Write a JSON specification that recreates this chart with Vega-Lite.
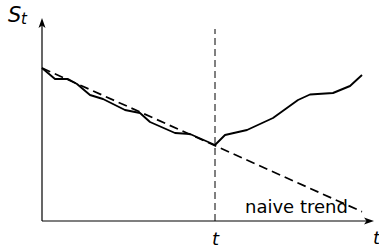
{
  "$schema": "https://vega.github.io/schema/vega-lite/v6.json",
  "width": 330,
  "height": 200,
  "autosize": "none",
  "padding": {"left": 42, "top": 21, "right": 7, "bottom": 26},
  "config": {"view": {"stroke": null}, "font": "DejaVu Sans"},
  "datasets": {
    "series": [
      {"x": 0, "y": 153}, {"x": 13, "y": 142}, {"x": 26, "y": 142}, {"x": 35, "y": 137},
      {"x": 48, "y": 126}, {"x": 61, "y": 122}, {"x": 71, "y": 117}, {"x": 83, "y": 111},
      {"x": 98, "y": 108}, {"x": 108, "y": 99}, {"x": 133, "y": 88}, {"x": 148, "y": 87},
      {"x": 173, "y": 76}, {"x": 183, "y": 86}, {"x": 205, "y": 91}, {"x": 231, "y": 103},
      {"x": 256, "y": 121}, {"x": 268, "y": 126.5}, {"x": 291, "y": 128}, {"x": 308, "y": 135},
      {"x": 320, "y": 146}
    ],
    "trend": [{"x": 0, "y": 153}, {"x": 320, "y": 9.3}],
    "xaxis": [{"x": 0, "x2": 327, "y": 0}],
    "yaxis": [{"x": 0, "y": 0, "y2": 198}],
    "vline": [{"x": 173, "y": 0, "y2": 192}],
    "xarrow": [{"x": 327, "y": 0}],
    "yarrow": [{"x": 0, "y": 198}],
    "tlabels": [{"x": 170, "y": -24, "label": "t"}, {"x": 331, "y": -23, "label": "t"}],
    "slabel": [{"x": -34, "y": 199, "label": "S"}],
    "ssub": [{"x": -21, "y": 197, "label": "t"}],
    "trendlabel": [{"x": 203, "y": 8, "label": "naive trend"}]
  },
  "layer": [
    {
      "data": {"name": "xaxis"},
      "mark": {"type": "rule", "color": "black", "strokeWidth": 1.2},
      "encoding": {
        "x": {"field": "x", "type": "quantitative", "scale": {"domain": [0, 330], "nice": false}, "axis": null},
        "x2": {"field": "x2"},
        "y": {"field": "y", "type": "quantitative", "scale": {"domain": [0, 200], "nice": false}, "axis": null}
      }
    },
    {
      "data": {"name": "yaxis"},
      "mark": {"type": "rule", "color": "black", "strokeWidth": 1.2},
      "encoding": {
        "x": {"field": "x", "type": "quantitative", "axis": null},
        "y": {"field": "y", "type": "quantitative", "axis": null},
        "y2": {"field": "y2"}
      }
    },
    {
      "data": {"name": "vline"},
      "mark": {"type": "rule", "color": "black", "strokeWidth": 1, "strokeDash": [7, 4]},
      "encoding": {
        "x": {"field": "x", "type": "quantitative", "axis": null},
        "y": {"field": "y", "type": "quantitative", "axis": null},
        "y2": {"field": "y2"}
      }
    },
    {
      "data": {"name": "trend"},
      "mark": {"type": "line", "color": "black", "strokeWidth": 1.7, "strokeDash": [9, 5]},
      "encoding": {
        "x": {"field": "x", "type": "quantitative", "axis": null},
        "y": {"field": "y", "type": "quantitative", "axis": null}
      }
    },
    {
      "data": {"name": "series"},
      "mark": {"type": "line", "color": "black", "strokeWidth": 1.9, "strokeJoin": "round"},
      "encoding": {
        "x": {"field": "x", "type": "quantitative", "axis": null},
        "y": {"field": "y", "type": "quantitative", "axis": null}
      }
    },
    {
      "data": {"name": "xarrow"},
      "mark": {"type": "point", "shape": "M1,0 L-1,-0.7 L-0.5,0 L-1,0.7 Z", "size": 100, "filled": true, "color": "black", "opacity": 1},
      "encoding": {
        "x": {"field": "x", "type": "quantitative", "axis": null},
        "y": {"field": "y", "type": "quantitative", "axis": null}
      }
    },
    {
      "data": {"name": "yarrow"},
      "mark": {"type": "point", "shape": "M0,-1 L-0.7,1 L0,0.5 L0.7,1 Z", "size": 100, "filled": true, "color": "black", "opacity": 1},
      "encoding": {
        "x": {"field": "x", "type": "quantitative", "axis": null},
        "y": {"field": "y", "type": "quantitative", "axis": null}
      }
    },
    {
      "data": {"name": "tlabels"},
      "mark": {"type": "text", "fontSize": 18, "fontStyle": "italic", "align": "left", "baseline": "alphabetic", "color": "black"},
      "encoding": {
        "x": {"field": "x", "type": "quantitative", "axis": null},
        "y": {"field": "y", "type": "quantitative", "axis": null},
        "text": {"field": "label"}
      }
    },
    {
      "data": {"name": "slabel"},
      "mark": {"type": "text", "fontSize": 21, "fontStyle": "italic", "align": "left", "baseline": "alphabetic", "color": "black"},
      "encoding": {
        "x": {"field": "x", "type": "quantitative", "axis": null},
        "y": {"field": "y", "type": "quantitative", "axis": null},
        "text": {"field": "label"}
      }
    },
    {
      "data": {"name": "ssub"},
      "mark": {"type": "text", "fontSize": 15, "fontStyle": "italic", "align": "left", "baseline": "alphabetic", "color": "black"},
      "encoding": {
        "x": {"field": "x", "type": "quantitative", "axis": null},
        "y": {"field": "y", "type": "quantitative", "axis": null},
        "text": {"field": "label"}
      }
    },
    {
      "data": {"name": "trendlabel"},
      "mark": {"type": "text", "fontSize": 18, "align": "left", "baseline": "alphabetic", "color": "black"},
      "encoding": {
        "x": {"field": "x", "type": "quantitative", "axis": null},
        "y": {"field": "y", "type": "quantitative", "axis": null},
        "text": {"field": "label"}
      }
    }
  ]
}
